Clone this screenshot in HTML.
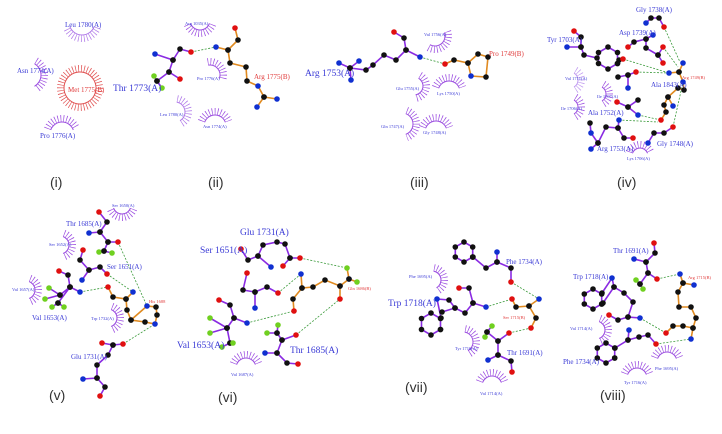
<!DOCTYPE html>
<html><head><meta charset="utf-8"><style>
html,body{margin:0;padding:0;background:#fff;}
svg{display:block}
.l{font-family:"Liberation Serif",serif;fill:#3b3bd6}
.s{font-size:4.5px}.m{font-size:7px}.b{font-size:9.5px}
.r{fill:#e03a3a}
.n{font-family:"Liberation Sans",sans-serif;font-size:14px;fill:#333}
</style></head><body>
<svg id="g" width="722" height="434" viewBox="0 0 722 434" xmlns="http://www.w3.org/2000/svg">
<g id="hb" stroke="#3a9a3a" stroke-width="0.8" stroke-dasharray="2 1.5" fill="none"></g>
<g id="eye"></g>
<g id="mol"></g>
<text class="l m" x="65" y="27">Leu 1780(A)</text>
<text class="l m" x="17" y="73">Asn 1774(A)</text>
<text class="l m r" x="68" y="92">Met 1775(B)</text>
<text class="l m" x="40" y="138">Pro 1776(A)</text>
<text class="l b" x="113" y="91">Thr 1773(A)</text>
<text class="l s" x="185" y="25">Arg 1035(A)</text>
<text class="l s" x="197" y="80">Pro 1776(A)</text>
<text class="l s" x="160" y="116">Leu 1780(A)</text>
<text class="l s" x="203" y="128">Asn 1774(A)</text>
<text class="l m r" x="254" y="79">Arg 1775(B)</text>
<text class="l b" x="305" y="76">Arg 1753(A)</text>
<text class="l m r" x="489" y="56">Pro 1749(B)</text>
<text class="l s" x="424" y="36">Val 1756(A)</text>
<text class="l s" x="396" y="90">Glu 1755(A)</text>
<text class="l s" x="437" y="95">Lys 1750(A)</text>
<text class="l s" x="381" y="128">Gln 1747(A)</text>
<text class="l s" x="423" y="134">Gly 1748(A)</text>
<text class="l m" x="636" y="12">Gly 1738(A)</text>
<text class="l m" x="619" y="35">Asp 1739(A)</text>
<text class="l m" x="547" y="42">Tyr 1703(A)</text>
<text class="l s r" x="682" y="79">Arg 1749(B)</text>
<text class="l m" x="651" y="87">Ala 1843(A)</text>
<text class="l m" x="588" y="115">Ala 1752(A)</text>
<text class="l m" x="597" y="151">Arg 1753(A)</text>
<text class="l m" x="657" y="146">Gly 1748(A)</text>
<text class="l s" x="565" y="80">Val 1711(A)</text>
<text class="l s" x="597" y="98">Ile 1707(A)</text>
<text class="l s" x="561" y="110">Ile 1706(A)</text>
<text class="l s" x="627" y="160">Lys 1706(A)</text>
<text class="l m" x="66" y="226">Thr 1685(A)</text>
<text class="l s" x="112" y="207">Ser 1650(A)</text>
<text class="l s" x="49" y="246">Ser 1652(A)</text>
<text class="l m" x="107" y="269">Ser 1651(A)</text>
<text class="l s" x="12" y="291">Val 1657(A)</text>
<text class="l m" x="32" y="320">Val 1653(A)</text>
<text class="l s" x="91" y="320">Trp 1732(A)</text>
<text class="l s r" x="149" y="303">His 1688</text>
<text class="l m" x="71" y="359">Glu 1731(A)</text>
<text class="l b" x="240" y="235">Glu 1731(A)</text>
<text class="l b" x="200" y="253">Ser 1651(A)</text>
<text class="l s r" x="348" y="290">Gln 1686(B)</text>
<text class="l b" x="177" y="348">Val 1653(A)</text>
<text class="l b" x="290" y="353">Thr 1685(A)</text>
<text class="l s" x="231" y="376">Val 1687(A)</text>
<text class="l m" x="506" y="264">Phe 1734(A)</text>
<text class="l s" x="409" y="278">Phe 1695(A)</text>
<text class="l b" x="388" y="306">Trp 1718(A)</text>
<text class="l s r" x="503" y="319">Ser 1715(B)</text>
<text class="l s" x="455" y="350">Tyr 1716(A)</text>
<text class="l m" x="507" y="355">Thr 1691(A)</text>
<text class="l s" x="480" y="395">Val 1714(A)</text>
<text class="l m" x="613" y="253">Thr 1691(A)</text>
<text class="l s r" x="688" y="279">Arg 1715(B)</text>
<text class="l m" x="573" y="279">Trp 1718(A)</text>
<text class="l s" x="570" y="330">Val 1714(A)</text>
<text class="l m" x="563" y="364">Phe 1734(A)</text>
<text class="l s" x="655" y="370">Phe 1695(A)</text>
<text class="l s" x="624" y="384">Tyr 1716(A)</text>
<text class="n" x="50" y="187">(i)</text>
<text class="n" x="208" y="187">(ii)</text>
<text class="n" x="410" y="187">(iii)</text>
<text class="n" x="617" y="187">(iv)</text>
<text class="n" x="49" y="400">(v)</text>
<text class="n" x="218" y="402">(vi)</text>
<text class="n" x="405" y="392">(vii)</text>
<text class="n" x="600" y="400">(viii)</text>
</svg>
<script>
var NS="http://www.w3.org/2000/svg";
function el(p,t,a){var e=document.createElementNS(NS,t);for(var k in a)e.setAttribute(k,a[k]);document.getElementById(p).appendChild(e);return e;}
var C={k:"#111",r:"#e01010",b:"#1030d0",g:"#70d020"};
var atoms=[];
function M(col,s){s.split("|").forEach(function(seg){var pts=seg.trim().split(/\s+/).map(function(p){var a=p.split(",");return [+a[0],+a[1],a[2]||"k"];});
el("mol","polyline",{points:pts.map(function(p){return p[0]+","+p[1]}).join(" "),fill:"none",stroke:col,"stroke-width":1.6});
pts.forEach(function(p){atoms.push(p)});});}
function ring(cx,cy,r,col){var s="";for(var i=0;i<=6;i++){var a=Math.PI/3*i+Math.PI/6;s+=(cx+r*Math.cos(a)).toFixed(1)+","+(cy+r*Math.sin(a)).toFixed(1)+" ";}M(col,s);}
function H(a,b,c,d){el("hb","line",{x1:a,y1:b,x2:c,y2:d});}
function E(cx,cy,r,a1,a2,col){col=col||"#9b4de0";var p1=[cx+r*Math.cos(a1*Math.PI/180),cy+r*Math.sin(a1*Math.PI/180)],p2=[cx+r*Math.cos(a2*Math.PI/180),cy+r*Math.sin(a2*Math.PI/180)];
var big=(a2-a1)>180?1:0;var d="M"+p1+" A"+r+" "+r+" 0 "+big+" 1 "+p2;
el("eye","path",{d:d,fill:"none",stroke:col,"stroke-width":1});
var R=r+3.5;var q1=[cx+R*Math.cos(a1*Math.PI/180),cy+R*Math.sin(a1*Math.PI/180)],q2=[cx+R*Math.cos(a2*Math.PI/180),cy+R*Math.sin(a2*Math.PI/180)];
el("eye","path",{d:"M"+q1+" A"+R+" "+R+" 0 "+big+" 1 "+q2,fill:"none",stroke:col,"stroke-width":7,"stroke-dasharray":"0.7 2.2"});}
var P="#8a2be2",O="#e08a20";
E(82,22,13,20,160,"#b07ae8");E(28,75,13,-60,60);E(80,88,16,0,359,"#e05050");E(62,134,12,200,340);
M(P,"155,54,b 173,60 180,49 191,52,r|173,60 169,72 180,79,r|169,72 157,81 154,76,g|157,81 162,88,g");
M(O,"216,47,b 228,50 238,40 235,28,r|228,50 230,63 246,67 247,81 258,86,b 264,97 257,107,b|264,97 277,99,b");
H(191,52,216,47);
E(200,20,10,20,160);E(210,75,10,-100,20);E(175,112,10,-80,60,"#b07ae8");E(215,126,11,200,340);
M(P,"339,63,b 350,68 359,61,b|350,68 351,80,b|350,68 366,70 373,65 384,55 396,60 406,50 404,38 394,32,r|406,50 420,57,b");
M(O,"445,64,r 454,60 468,63 478,54 488,57 486,77 471,76,b 468,63");
H(420,57,445,64);
E(435,36,10,-20,120);E(414,86,9,-60,80);E(449,92,11,200,340);E(402,124,11,-70,70);E(436,132,11,200,340);
M(P,"646,23,b 651,18 659,18 664,27,r|653,35,b 646,39 634,42 628,47,r|646,39 646,48 658,55 663,47,r|658,55 663,63,r");
M(P,"574,31,r 581,37 581,47 567,47,b|581,47 584,55 597,58");ring(608,58,11,P);M(P,"619,60 623,59,r");
M(P,"636,72,r 628,75 618,77|628,75 628,88,b");
M(O,"669,73,b 679,72 683,63,b|679,72 683,82,b 684,90 678,88 668,97 664,105 666,112 661,120,r|668,97 673,106,b");
M(P,"617,102,r 628,107 638,100|628,107 638,115,b");
M(P,"590,123 591,133,b 598,143 591,149,b|598,143 606,127 618,128 619,120,b|618,128 624,138 633,138,r");
M(P,"648,143,b 654,133 664,133 673,127,r");
H(623,59,669,73);H(663,47,678,67);H(664,27,680,62);H(636,72,669,73);H(638,115,661,120);H(619,120,658,122);H(673,127,683,82);
E(570,80,8,-60,60,"#c09af0");E(598,94,8,-60,60);E(570,107,8,-60,60);E(640,156,8,200,340);
M(P,"99,212,r 107,222 100,232 89,233,b|100,232 108,242 118,242,r|108,242 104,251 99,252,g|104,251 112,253,g");
M(P,"83,250,r 80,260 89,270 82,280,b|89,270 100,267 107,274,r");
M(P,"59,271,r 68,275 70,287 80,292,b|70,287 60,295 49,288,g|60,295 45,299,g|70,287 58,303 52,307,g|58,303 64,307,g");
M(O,"108,287,r 113,297 126,299 133,292,b|126,299 127,310 131,320 145,322 155,324,b 157,315 156,307 147,306,b 131,320");
M(P,"102,343,r 113,345 123,344,r|113,345 108,355 97,365 97,378 83,379,b|97,378 105,387 100,396,r");
H(118,242,147,306);H(107,274,133,292);H(80,292,108,287);H(123,344,155,324);
E(122,205,9,20,160);E(60,245,9,-70,70);E(26,290,9,-70,70);E(108,318,9,-70,70);
M(P,"241,249,r 248,260 258,256 263,245 277,242 285,244 290,258 300,258,r|258,256 271,267,b|290,258 283,266,r");
M(O,"301,274,b 302,288 313,287 325,280 340,286 349,279,b 347,268,g|349,279 357,282,g|340,286 340,299,r|302,288 293,299 294,311,r");
M(P,"247,273,r 243,290 255,292 255,308,b|255,292 267,287 278,293,r");
M(P,"219,300,r 230,305 234,318 247,323,b|234,318 227,328 210,318,g|227,328 210,333,g|227,328 230,343 222,347,g|230,343 233,343,g");
M(P,"278,325,g 277,333 267,333,g|277,333 282,340 296,335,r|282,340 277,353 265,353,b|277,353 287,363 298,364,r");
H(300,258,347,268);H(278,293,301,274);H(247,323,294,311);H(296,335,340,299);
E(246,368,10,200,340);
ring(464,252,10,P);M(P,"473,257 486,268 497,262 497,252,b|497,262 511,268 511,282,r");
ring(431,324,11,P);M(P,"441,318 437,299,b 449,300 455,308 442,312|455,308 465,313 473,303 486,307,b|473,303 469,288 459,288,r");
M(O,"512,299,r 516,307 529,306 539,299,b|529,306 536,318 531,328,r");
M(P,"492,326,g 487,332 485,337,g|487,332 498,341 509,333,r|498,341 498,355 488,360,b|498,355 511,361 512,372,r");
H(511,282,539,299);H(486,307,512,299);H(509,333,531,328);
E(432,280,9,-80,60);E(463,342,10,-80,60);E(492,386,10,200,340);
M(P,"654,243,r 655,253 646,262 634,259,b|646,262 648,273 657,279,r|648,273 640,284 636,280,g|640,284 643,289,g");
M(O,"680,274,b 683,283 694,285,b|683,283 678,292 679,307 691,307 696,318 693,328 691,339,b|693,328 683,326 673,326 666,333,r");
ring(593,299,10,P);M(P,"602,293 612,278,b 614,287 624,293 633,302 628,317 618,320 609,315,r|628,317 640,318,b|614,287 603,303");
ring(606,353,10,P);M(P,"615,348 628,340 629,330,b|628,340 639,337 648,335 656,344,r");
H(657,279,680,274);H(640,318,666,333);H(656,344,691,339);
E(596,330,9,-70,70);E(667,362,10,200,340);E(637,378,10,200,340);
atoms.forEach(function(p){el("mol","circle",{cx:p[0],cy:p[1],r:2.8,fill:C[p[2]]});});
</script>
</body></html>
